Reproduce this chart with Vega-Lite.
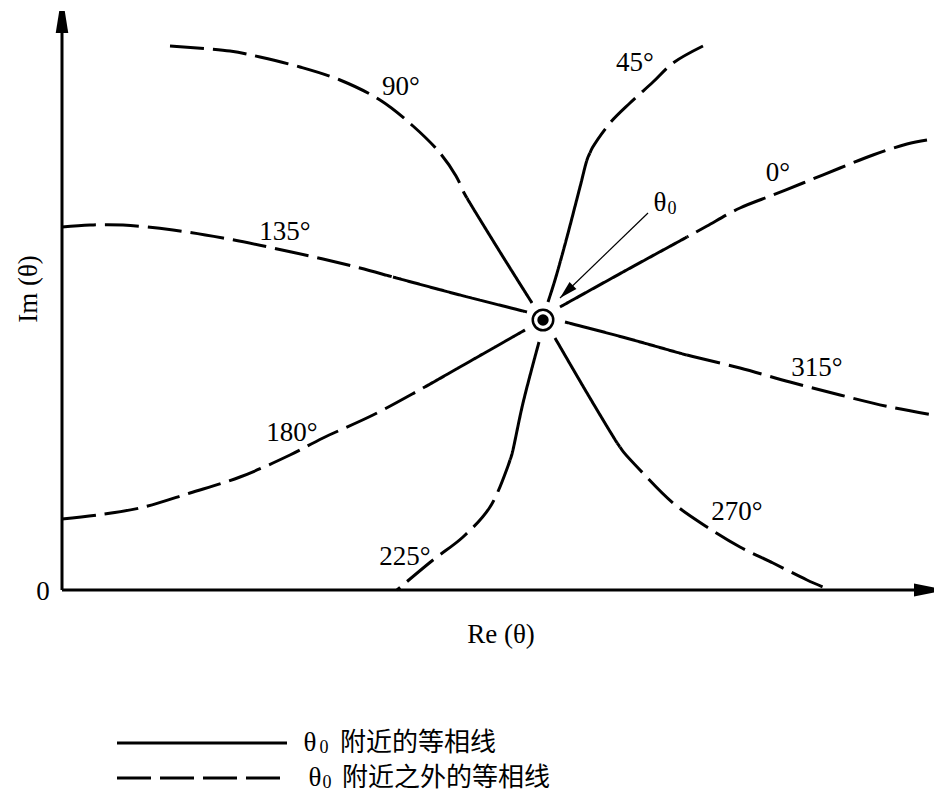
{
  "$schema": "https://vega.github.io/schema/vega-lite/v6.json",
  "width": 934,
  "height": 792,
  "autosize": {"type": "none"},
  "padding": 0,
  "background": "white",
  "config": {"view": {"stroke": null}},
  "datasets": {
    "curves": [
      {"seg": "90d", "style": "dashed", "i": 0, "x": 108, "y": 544},
      {"seg": "90d", "style": "dashed", "i": 1, "x": 168, "y": 539},
      {"seg": "90d", "style": "dashed", "i": 2, "x": 198, "y": 533},
      {"seg": "90d", "style": "dashed", "i": 3, "x": 238, "y": 523},
      {"seg": "90d", "style": "dashed", "i": 4, "x": 278, "y": 510},
      {"seg": "90d", "style": "dashed", "i": 5, "x": 318, "y": 490},
      {"seg": "90d", "style": "dashed", "i": 6, "x": 351, "y": 464},
      {"seg": "90d", "style": "dashed", "i": 7, "x": 378, "y": 437},
      {"seg": "90d", "style": "dashed", "i": 8, "x": 394, "y": 414},
      {"seg": "90d", "style": "dashed", "i": 9, "x": 402.5, "y": 396.3},
      {"seg": "90d", "style": "dashed", "i": 10, "x": 405, "y": 392},
      {"seg": "90s", "style": "solid", "i": 0, "x": 405, "y": 392},
      {"seg": "90s", "style": "solid", "i": 1, "x": 407.5, "y": 387.7},
      {"seg": "90s", "style": "solid", "i": 2, "x": 438, "y": 338},
      {"seg": "90s", "style": "solid", "i": 3, "x": 470, "y": 287},
      {"seg": "45d", "style": "dashed", "i": 0, "x": 641, "y": 544},
      {"seg": "45d", "style": "dashed", "i": 1, "x": 611, "y": 527},
      {"seg": "45d", "style": "dashed", "i": 2, "x": 591, "y": 508},
      {"seg": "45d", "style": "dashed", "i": 3, "x": 568, "y": 487},
      {"seg": "45d", "style": "dashed", "i": 4, "x": 548, "y": 467},
      {"seg": "45d", "style": "dashed", "i": 5, "x": 530.5, "y": 442.4},
      {"seg": "45d", "style": "dashed", "i": 6, "x": 528, "y": 437},
      {"seg": "45s", "style": "solid", "i": 0, "x": 528, "y": 437},
      {"seg": "45s", "style": "solid", "i": 1, "x": 525.5, "y": 431.6},
      {"seg": "45s", "style": "solid", "i": 2, "x": 518, "y": 403},
      {"seg": "45s", "style": "solid", "i": 3, "x": 505, "y": 353},
      {"seg": "45s", "style": "solid", "i": 4, "x": 493, "y": 310},
      {"seg": "45s", "style": "solid", "i": 5, "x": 486, "y": 288},
      {"seg": "0d", "style": "dashed", "i": 0, "x": 865, "y": 450},
      {"seg": "0d", "style": "dashed", "i": 1, "x": 845, "y": 446},
      {"seg": "0d", "style": "dashed", "i": 2, "x": 811, "y": 435},
      {"seg": "0d", "style": "dashed", "i": 3, "x": 778, "y": 422},
      {"seg": "0d", "style": "dashed", "i": 4, "x": 741, "y": 407},
      {"seg": "0d", "style": "dashed", "i": 5, "x": 711, "y": 395},
      {"seg": "0d", "style": "dashed", "i": 6, "x": 678, "y": 382},
      {"seg": "0d", "style": "dashed", "i": 7, "x": 645, "y": 364},
      {"seg": "0d", "style": "dashed", "i": 8, "x": 630.3, "y": 355.9},
      {"seg": "0d", "style": "dashed", "i": 9, "x": 625, "y": 353},
      {"seg": "0s", "style": "solid", "i": 0, "x": 625, "y": 353},
      {"seg": "0s", "style": "solid", "i": 1, "x": 619.7, "y": 350.1},
      {"seg": "0s", "style": "solid", "i": 2, "x": 561, "y": 318},
      {"seg": "0s", "style": "solid", "i": 3, "x": 498, "y": 283},
      {"seg": "135d", "style": "dashed", "i": 0, "x": 0, "y": 363},
      {"seg": "135d", "style": "dashed", "i": 1, "x": 28, "y": 365},
      {"seg": "135d", "style": "dashed", "i": 2, "x": 61, "y": 365},
      {"seg": "135d", "style": "dashed", "i": 3, "x": 111, "y": 360},
      {"seg": "135d", "style": "dashed", "i": 4, "x": 161, "y": 352},
      {"seg": "135d", "style": "dashed", "i": 5, "x": 211, "y": 342},
      {"seg": "135d", "style": "dashed", "i": 6, "x": 261, "y": 331},
      {"seg": "135d", "style": "dashed", "i": 7, "x": 298, "y": 322},
      {"seg": "135d", "style": "dashed", "i": 8, "x": 325.2, "y": 314.6},
      {"seg": "135d", "style": "dashed", "i": 9, "x": 331, "y": 313},
      {"seg": "135s", "style": "solid", "i": 0, "x": 331, "y": 313},
      {"seg": "135s", "style": "solid", "i": 1, "x": 336.8, "y": 311.4},
      {"seg": "135s", "style": "solid", "i": 2, "x": 398, "y": 295},
      {"seg": "135s", "style": "solid", "i": 3, "x": 465, "y": 278},
      {"seg": "315s", "style": "solid", "i": 0, "x": 503, "y": 268},
      {"seg": "315s", "style": "solid", "i": 1, "x": 564, "y": 252},
      {"seg": "315s", "style": "solid", "i": 2, "x": 619.2, "y": 236.5},
      {"seg": "315s", "style": "solid", "i": 3, "x": 625, "y": 235},
      {"seg": "315d", "style": "dashed", "i": 0, "x": 625, "y": 235},
      {"seg": "315d", "style": "dashed", "i": 1, "x": 630.8, "y": 233.5},
      {"seg": "315d", "style": "dashed", "i": 2, "x": 678, "y": 222},
      {"seg": "315d", "style": "dashed", "i": 3, "x": 728, "y": 208},
      {"seg": "315d", "style": "dashed", "i": 4, "x": 778, "y": 195},
      {"seg": "315d", "style": "dashed", "i": 5, "x": 828, "y": 183},
      {"seg": "315d", "style": "dashed", "i": 6, "x": 871, "y": 175},
      {"seg": "270s", "style": "solid", "i": 0, "x": 493, "y": 252},
      {"seg": "270s", "style": "solid", "i": 1, "x": 525, "y": 197},
      {"seg": "270s", "style": "solid", "i": 2, "x": 554.6, "y": 147.9},
      {"seg": "270s", "style": "solid", "i": 3, "x": 558, "y": 143},
      {"seg": "270d", "style": "dashed", "i": 0, "x": 558, "y": 143},
      {"seg": "270d", "style": "dashed", "i": 1, "x": 561.4, "y": 138.1},
      {"seg": "270d", "style": "dashed", "i": 2, "x": 578, "y": 120},
      {"seg": "270d", "style": "dashed", "i": 3, "x": 611, "y": 87},
      {"seg": "270d", "style": "dashed", "i": 4, "x": 645, "y": 63},
      {"seg": "270d", "style": "dashed", "i": 5, "x": 678, "y": 43},
      {"seg": "270d", "style": "dashed", "i": 6, "x": 711, "y": 27},
      {"seg": "270d", "style": "dashed", "i": 7, "x": 745, "y": 10},
      {"seg": "270d", "style": "dashed", "i": 8, "x": 768, "y": 0},
      {"seg": "180d", "style": "dashed", "i": 0, "x": 0, "y": 71},
      {"seg": "180d", "style": "dashed", "i": 1, "x": 35, "y": 75},
      {"seg": "180d", "style": "dashed", "i": 2, "x": 78, "y": 82},
      {"seg": "180d", "style": "dashed", "i": 3, "x": 128, "y": 97},
      {"seg": "180d", "style": "dashed", "i": 4, "x": 178, "y": 113},
      {"seg": "180d", "style": "dashed", "i": 5, "x": 228, "y": 135},
      {"seg": "180d", "style": "dashed", "i": 6, "x": 261, "y": 152},
      {"seg": "180d", "style": "dashed", "i": 7, "x": 311, "y": 175},
      {"seg": "180d", "style": "dashed", "i": 8, "x": 355.8, "y": 199.1},
      {"seg": "180d", "style": "dashed", "i": 9, "x": 361, "y": 202},
      {"seg": "180s", "style": "solid", "i": 0, "x": 361, "y": 202},
      {"seg": "180s", "style": "solid", "i": 1, "x": 366.2, "y": 204.9},
      {"seg": "180s", "style": "solid", "i": 2, "x": 412, "y": 231},
      {"seg": "180s", "style": "solid", "i": 3, "x": 463, "y": 260},
      {"seg": "225s", "style": "solid", "i": 0, "x": 477, "y": 248},
      {"seg": "225s", "style": "solid", "i": 1, "x": 461, "y": 187},
      {"seg": "225s", "style": "solid", "i": 2, "x": 449.9, "y": 135.7},
      {"seg": "225s", "style": "solid", "i": 3, "x": 448, "y": 130},
      {"seg": "225d", "style": "dashed", "i": 0, "x": 448, "y": 130},
      {"seg": "225d", "style": "dashed", "i": 1, "x": 446.1, "y": 124.3},
      {"seg": "225d", "style": "dashed", "i": 2, "x": 428, "y": 83},
      {"seg": "225d", "style": "dashed", "i": 3, "x": 401, "y": 53},
      {"seg": "225d", "style": "dashed", "i": 4, "x": 371, "y": 30},
      {"seg": "225d", "style": "dashed", "i": 5, "x": 335, "y": 0}
    ],
    "rules": [
      {"name": "yaxis", "style": "solid", "x": 0, "y": 0, "x2": 0, "y2": 557},
      {"name": "xaxis", "style": "solid", "x": 0, "y": 0, "x2": 855, "y2": 0},
      {"name": "legend-solid", "style": "solid", "x": 55, "y": -153, "x2": 225, "y2": -153},
      {"name": "legend-dashed", "style": "dashed", "x": 55, "y": -188, "x2": 221, "y2": -188}
    ],
    "pointer": [{"x": 586, "y": 377, "x2": 498, "y2": 292}],
    "labels": [
      {"text": "90°", "x": 339, "y": 503},
      {"text": "45°", "x": 573, "y": 527},
      {"text": "0°", "x": 716, "y": 417},
      {"text": "135°", "x": 223, "y": 358},
      {"text": "315°", "x": 755, "y": 222},
      {"text": "270°", "x": 675, "y": 78},
      {"text": "180°", "x": 230, "y": 157},
      {"text": "225°", "x": 343, "y": 33},
      {"text": "0", "x": -19, "y": -2},
      {"text": "Re (θ)", "x": 439, "y": -45},
      {"text": "θ", "x": 598, "y": 387},
      {"text": "θ", "x": 248, "y": -153},
      {"text": "θ", "x": 253, "y": -188}
    ],
    "subs": [
      {"text": "0", "x": 610, "y": 381},
      {"text": "0", "x": 262, "y": -158},
      {"text": "0", "x": 265, "y": -193}
    ],
    "legendText": [
      {"text": "附近的等相线", "x": 278, "y": -153},
      {"text": "附近之外的等相线", "x": 280, "y": -188}
    ],
    "ylabel": [{"text": "Im (θ)", "x": -33, "y": 301}],
    "center": [{"x": 481, "y": 270}],
    "yArrow": [{"x": 0, "y": 568}],
    "xArrow": [{"x": 862, "y": 0}],
    "ptrArrow": [{"x": 504.5, "y": 298.3}]
  },
  "encoding": {
    "x": {"field": "x", "type": "quantitative", "scale": {"domain": [-62, 872], "nice": false, "zero": false}, "axis": null},
    "y": {"field": "y", "type": "quantitative", "scale": {"domain": [-202, 590], "nice": false, "zero": false}, "axis": null}
  },
  "layer": [
    {
      "data": {"name": "curves"},
      "mark": {"type": "line", "interpolate": "catmull-rom", "color": "black", "strokeWidth": 3, "strokeCap": "butt"},
      "encoding": {
        "detail": {"field": "seg", "type": "nominal"},
        "order": {"field": "i", "type": "quantitative"},
        "strokeDash": {"field": "style", "type": "nominal", "scale": {"domain": ["solid", "dashed"], "range": [[1, 0], [34, 9]]}, "legend": null}
      }
    },
    {
      "data": {"name": "rules"},
      "mark": {"type": "rule", "color": "black", "strokeWidth": 3, "strokeCap": "butt"},
      "encoding": {
        "x2": {"field": "x2"},
        "y2": {"field": "y2"},
        "strokeDash": {"field": "style", "type": "nominal", "scale": {"domain": ["solid", "dashed"], "range": [[1, 0], [34, 9]]}, "legend": null}
      }
    },
    {
      "data": {"name": "pointer"},
      "mark": {"type": "rule", "color": "black", "strokeWidth": 1.2},
      "encoding": {"x2": {"field": "x2"}, "y2": {"field": "y2"}}
    },
    {
      "data": {"name": "ptrArrow"},
      "mark": {"type": "point", "shape": "M0,-1L-0.55,1L0.55,1Z", "size": 324, "angle": 226, "filled": true, "color": "black", "opacity": 1}
    },
    {
      "data": {"name": "yArrow"},
      "mark": {"type": "point", "shape": "M-0.25,-1L0.25,-1L0.57,1L-0.57,1Z", "size": 484, "angle": 0, "filled": true, "color": "black", "opacity": 1}
    },
    {
      "data": {"name": "xArrow"},
      "mark": {"type": "point", "shape": "M-0.25,-1L0.25,-1L0.65,1L-0.65,1Z", "size": 400, "angle": 90, "filled": true, "color": "black", "opacity": 1}
    },
    {
      "data": {"name": "center"},
      "mark": {"type": "point", "shape": "circle", "size": 420, "filled": false, "stroke": "black", "strokeWidth": 2.5, "opacity": 1}
    },
    {
      "data": {"name": "center"},
      "mark": {"type": "point", "shape": "circle", "size": 130, "filled": true, "color": "black", "opacity": 1}
    },
    {
      "data": {"name": "labels"},
      "mark": {"type": "text", "font": "Liberation Serif, DejaVu Serif, serif", "fontSize": 27, "align": "center", "baseline": "middle", "color": "black"},
      "encoding": {"text": {"field": "text", "type": "nominal"}}
    },
    {
      "data": {"name": "subs"},
      "mark": {"type": "text", "font": "Liberation Serif, DejaVu Serif, serif", "fontSize": 18, "align": "center", "baseline": "middle", "color": "black"},
      "encoding": {"text": {"field": "text", "type": "nominal"}}
    },
    {
      "data": {"name": "legendText"},
      "mark": {"type": "text", "font": "Noto Sans CJK SC", "fontSize": 26, "align": "left", "baseline": "middle", "color": "black"},
      "encoding": {"text": {"field": "text", "type": "nominal"}}
    },
    {
      "data": {"name": "ylabel"},
      "mark": {"type": "text", "font": "Liberation Serif, DejaVu Serif, serif", "fontSize": 27, "align": "center", "baseline": "middle", "angle": 270, "color": "black"},
      "encoding": {"text": {"field": "text", "type": "nominal"}}
    }
  ]
}
